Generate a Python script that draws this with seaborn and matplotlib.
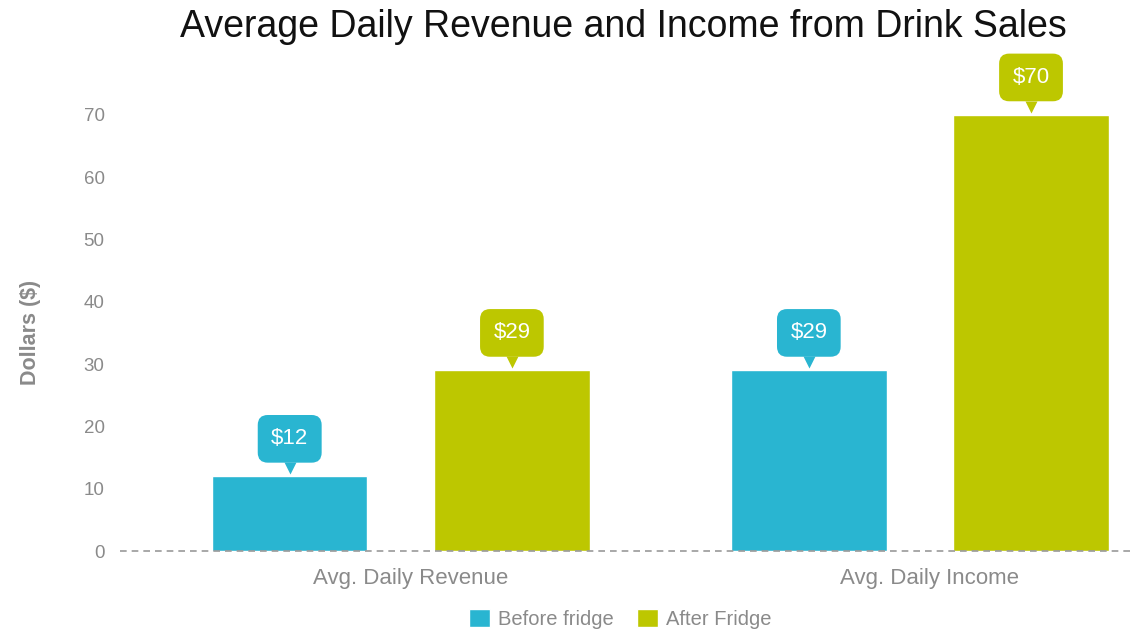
import matplotlib
matplotlib.use("Agg")
import matplotlib.pyplot as plt
import matplotlib.transforms as mtransforms
import pandas as pd
import seaborn as sns

# values
categories = ["Avg. Daily Revenue", "Avg. Daily Income"]
before_fridge = [12, 29]
after_fridge = [29, 70]
series_names = ["Before fridge", "After Fridge"]
colors = ["#29b5d1", "#bdc700"]

df = pd.DataFrame({
    "metric": categories * 2,
    "value": before_fridge + after_fridge,
    "period": [series_names[0]] * 2 + [series_names[1]] * 2,
})

sns.set_style("white")
plt.rcParams["font.family"] = ["Liberation Sans", "DejaVu Sans"]

fig = plt.figure(figsize=(11.38, 6.32), dpi=100)
ax = fig.add_axes([0.1054, 0.128, 0.890, 0.769])

sns.barplot(data=df, x="metric", y="value", hue="period", palette=colors,
            width=0.856, gap=0.3, saturation=1, ax=ax)

ax.set_xlim(-0.541, 1.41)
ax.set_ylim(0, 78)
ax.set_yticks(range(0, 71, 10))
for s in ax.spines.values():
    s.set_visible(False)
ax.axhline(0, color="#9a9a9a", lw=1.2, ls=(0, (4, 3)), zorder=5, clip_on=False)

ax.tick_params(axis="both", length=0, colors="#8a8a8a")
ax.tick_params(axis="x", pad=12, labelsize=16)
ax.tick_params(axis="y", pad=11, labelsize=13.5)
# category labels sit a little right of the bar groups in the original
shift = mtransforms.ScaledTranslation(10 / 100, 0, fig.dpi_scale_trans)
for lab in ax.get_xticklabels():
    lab.set_transform(lab.get_transform() + shift)
ax.set_xlabel("")
ax.set_ylabel("Dollars ($)", fontsize=15.5, fontweight="bold", color="#8a8a8a")
ax.yaxis.set_label_coords(-0.078, 0.45)

fig.text(0.548, 0.957, "Average Daily Revenue and Income from Drink Sales",
         fontsize=27, ha="center", va="center", color="#111111")

# callout labels
for cont, col in zip(ax.containers, colors):
    for bar in cont:
        x = bar.get_x() + bar.get_width() / 2
        h = bar.get_height()
        ax.annotate(f"\\${h:.0f}", (x, h), xytext=(0, 27), textcoords="offset points",
                    ha="center", va="center", color="white", fontsize=16,
                    bbox=dict(boxstyle="round,pad=0.6,rounding_size=0.45", fc=col, ec="none"))
        tr = mtransforms.offset_copy(ax.transData, fig=fig, x=0, y=6, units="points")
        ax.plot([x], [h], marker="v", ms=9, color=col, mec="none", transform=tr, clip_on=False)

leg = ax.legend(loc="center", bbox_to_anchor=(0.494, -0.14), ncol=2, frameon=False,
                fontsize=14.5, handlelength=1.0, handleheight=1.0, handletextpad=0.4,
                columnspacing=1.2, labelcolor="#8a8a8a")

fig.savefig("out.png", dpi=100)
